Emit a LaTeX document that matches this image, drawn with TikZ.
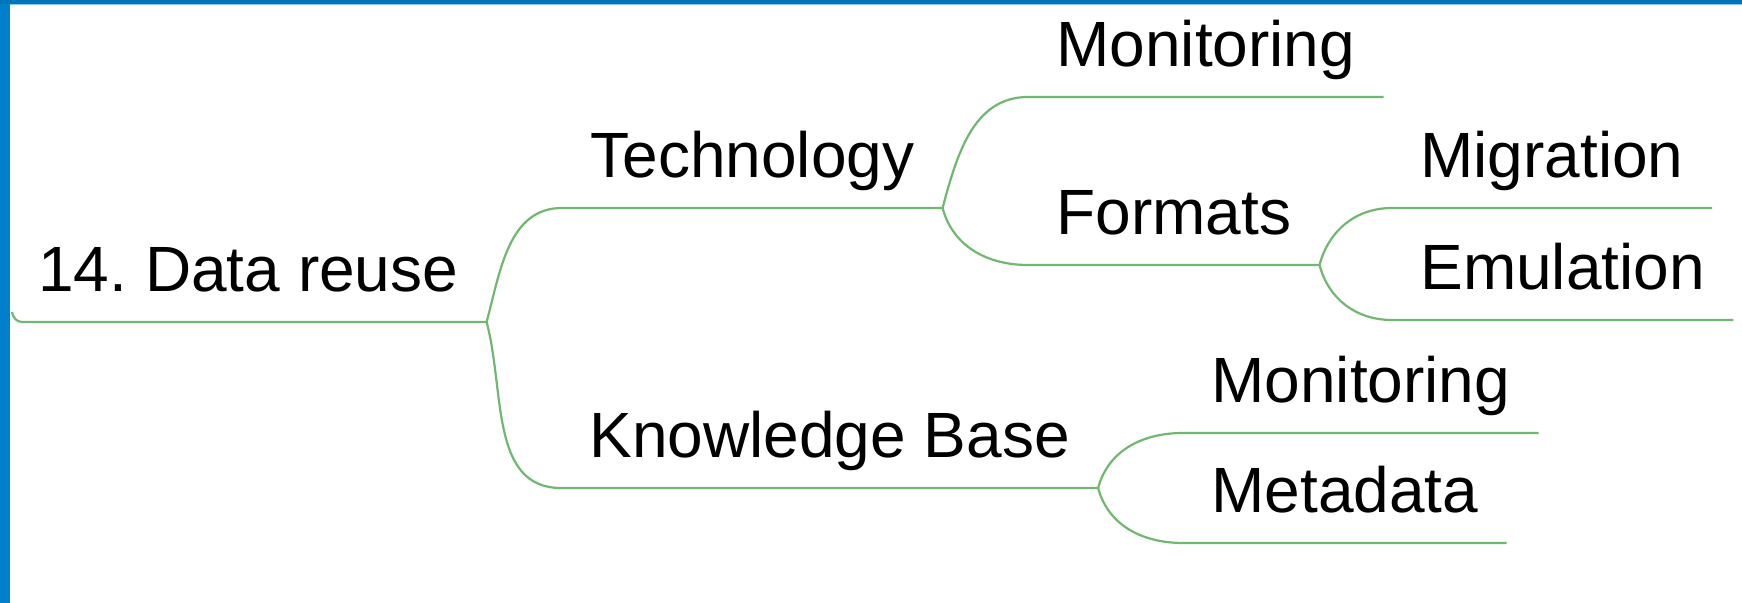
\documentclass[tikz,border=0pt]{standalone}
\usepackage{fontspec}
\setmainfont{Liberation Sans}
\usepackage{tikz}
\definecolor{framebar}{RGB}{0,128,204}
\definecolor{topbar}{RGB}{0,117,184}
\definecolor{twig}{RGB}{112,184,112}
\frenchspacing

\begin{document}
\begin{tikzpicture}[x=0.5pt, y=-0.5pt,
    topic/.style={anchor=south west, font=\fontsize{32}{38}\selectfont,
      inner xsep=14pt, inner ysep=0pt, text height=24pt, text depth=15pt},
    branch/.style={draw=twig, line width=1.1pt}]
  \fill[white] (0,0) rectangle (1742,603);
  \useasboundingbox (0,0) rectangle (1742,603);
  % frame
  \fill[framebar] (0,0) rectangle (10,603);
  \fill[topbar] (0,0) rectangle (1742,4);
  \fill[framebar!45] (10,4) rectangle (1742,5);

  \node[topic] (root) at (10,322) {14. Data reuse};
  \node[topic] (tech) at (562,208) {Technology};
  \node[topic] (kb) at (561,488) {Knowledge Base};
  \node[topic] (mon1) at (1028,97) {Monitoring};
  \node[topic] (formats) at (1028,265) {Formats};
  \node[topic] (migr) at (1392,208) {Migration};
  \node[topic] (emul) at (1392,320) {Emulation};
  \node[topic] (mon2) at (1183,433) {Monitoring};
  \node[topic] (meta) at (1183,543) {Metadata};

  \draw[branch] ([shift={(2,-10)}]root.south west) to[out=-80,in=180] ([xshift=6pt]root.south west) -- (root.south east);
  \draw[branch] (root.south east) to[out=75,in=180] (tech.south west) -- (tech.south east);
  \draw[branch] (root.south east) to[out=-75,in=180] (kb.south west) -- (kb.south east);
  \draw[branch] (tech.south east) to[out=75,in=180] (mon1.south west) -- (mon1.south east);
  \draw[branch] (tech.south east) to[out=-75,in=180] (formats.south west) -- (formats.south east);
  \draw[branch] (formats.south east) to[out=75,in=180] (migr.south west) -- (migr.south east);
  \draw[branch] (formats.south east) to[out=-75,in=180] (emul.south west) -- (emul.south east);
  \draw[branch] (kb.south east) to[out=75,in=180] (mon2.south west) -- (mon2.south east);
  \draw[branch] (kb.south east) to[out=-75,in=180] (meta.south west) -- (meta.south east);
\end{tikzpicture}
\end{document}
